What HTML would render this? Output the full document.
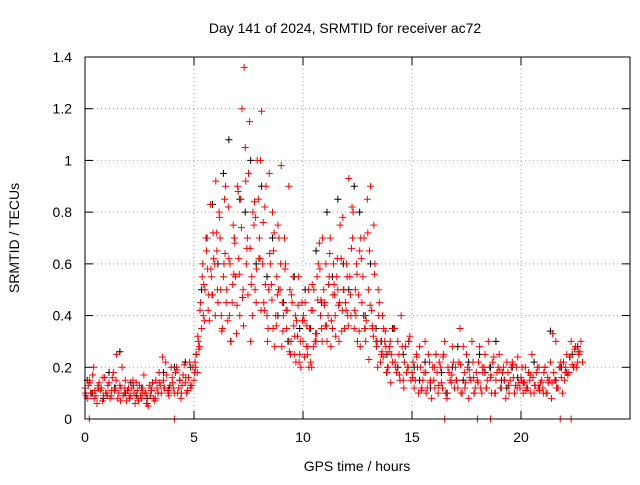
<!DOCTYPE html>
<html><head><meta charset="utf-8"><style>
body{margin:0;background:#fff;}
svg text{font-family:"Liberation Sans",sans-serif;font-size:14px;fill:#000;}
</style></head><body>
<svg id="chart" width="640" height="480">
<rect x="0" y="0" width="640" height="480" fill="#fff"/>
<text x="345" y="33" text-anchor="middle">Day 141 of 2024, SRMTID for receiver ac72</text>
<text x="19" y="238" text-anchor="middle" transform="rotate(-90 19 238)">SRMTID / TECUs</text>
<text x="357" y="471" text-anchor="middle">GPS time / hours</text>
<g id="grid"></g>
<g id="ticks"></g>
<g id="black"></g>
<g id="red"></g>
<rect x="85" y="57" width="545" height="362" fill="none" stroke="#000" stroke-width="1"/>
</svg>
<script>
const xTicks=[0,5,10,15,20];
const yTicks=[0,0.2,0.4,0.6,0.8,1,1.2,1.4];
const yTickLabels=["0","0.2","0.4","0.6","0.8","1","1.2","1.4"];
const redStart=0, redStep=0.1;
const redA=[.12,.08,.15,.1,.2,.09,.13,.11,.07,.16,
.1,.14,.09,.18,.12,.08,.13,.2,.1,.07,
.12,.09,.15,.06,.11,.13,.08,.17,.1,.05,
.09,.14,.07,.12,.18,.1,.15,.22,.11,.13,
.16,.1,.2,.12,.08,.17,.14,.11,.22,.13,
.15,.25,.3,.45,.6,.5,.7,.38,.55,.62,
.92,.45,.7,.35,.85,.5,.62,.3,.75,.55,
.9,.4,1.2,1.36,.6,.95,.3,.8,.5,1.0,
.7,1.19,.45,.9,.35,.6,.8,.28,.55,.7,
.98,.4,.6,.3,.5,.45,.25,.38,.55,.2,
.3,.45,.25,.35,.2,.5,.3,.6,.4,.7,
.45,.3,.55,.38,.6,.32,.5,.75,.42,.35,
.6,.93,.4,.8,.5,.3,.65,.45,.7,.38,
.5,.9,.35,.6,.3,.45,.25,.35,.28,.2,
.3,.22,.35,.18,.25,.4,.15,.28,.2,.32,
.18,.12,.25,.1,.2,.15,.3,.12,.22,.08,
.15,.25,.1,.2,.12,.3,.08,.18,.14,.22,
.2,.12,.35,.1,.18,.25,.08,.15,.22,.12,
.15,.28,.1,.2,.12,.3,.16,.22,.1,.18,
.25,.12,.2,.08,.18,.15,.22,.1,.2,.14,
.16,.1,.2,.12,.15,.25,.1,.18,.12,.14,
.12,.2,.1,.15,.08,.18,.3,.12,.2,.1,
.15,.25,.18,.3,.2,.28,.22,.26];
const redBStart=0.05, redBStep=0.1;
const redB=[.09,.13,.1,.17,.11,.06,.14,.12,.09,.1,
.13,.08,.16,.11,.25,.1,.12,.09,.15,.11,
.08,.12,.1,.14,.07,.09,.12,.1,.06,.13,
.11,.08,.15,.1,.13,.24,.12,.17,.09,.2,
.12,.18,.1,.15,.13,.21,.1,.16,.12,.2,
.22,.18,.28,.35,.52,.7,.42,.83,.48,.6,
.65,.8,.4,.55,.9,.38,.6,.45,.7,.33,
.62,.85,.5,1.05,.7,1.15,.55,.75,.45,.85,
1.0,.6,.82,.4,.95,.52,.65,.4,.75,.5,
.45,.7,.35,.9,.3,.55,.4,.32,.25,.45,
.38,.28,.5,.22,.42,.3,.55,.68,.35,.5,
.6,.4,.7,.35,.48,.55,.3,.62,.5,.45,
.4,.55,.82,.35,.6,.48,.7,.55,.35,.85,
.65,.42,.75,.3,.5,.22,.4,.3,.18,.26,
.25,.35,.2,.3,.15,.28,.22,.18,.3,.15,
.22,.15,.2,.28,.12,.18,.1,.25,.15,.2,
.12,.18,.22,.14,.25,.1,.2,.15,.28,.12,
.15,.22,.1,.28,.14,.2,.16,.3,.1,.18,
.22,.12,.18,.25,.15,.2,.1,.24,.15,.2,
.12,.18,.15,.22,.1,.2,.16,.13,.24,.12,
.2,.14,.12,.18,.1,.16,.13,.2,.11,.15,
.18,.1,.14,.22,.33,.15,.12,.2,.16,.22,
.2,.17,.24,.21,.27,.2,.25,.3];
const redCStart=0.025, redCStep=0.2;
const redC=[.1,.14,.08,.12,.16,.09,.11,.15,.07,.12,
.09,.13,.08,.1,.06,.12,.08,.14,.12,.1,
.14,.19,.1,.16,.13,.18,.27,.4,.58,.48,
.72,.5,.64,.4,.56,.88,.47,.66,.52,.78,
.62,.42,.5,.35,.48,.28,.42,.25,.32,.22,
.4,.28,.52,.33,.46,.36,.64,.52,.44,.78,
.55,.66,.4,.28,.35,.23,.32,.2,.26,.18,
.14,.22,.17,.12,.2,.16,.24,.11,.18,.14,
.2,.13,.24,.1,.17,.15,.21,.12,.19,.16,
.14,.2,.12,.17,.1,.19,.15,.13,.21,.12,
.15,.11,.17,.13,.2,.1,.16,.14,.12,.22,
.18,.24,.2,.26,.22];
const redDStart=5.075, redDStep=0.1;
const redD=[.2,.32,.42,.55,.38,.65,.48,.58,.72,.4,
.5,.78,.34,.6,.45,.82,.3,.52,.68,.44,
.56,.74,.36,.92,.48,.66,.4,.84,.58,.62,
.42,.76,.52,.3,.64,.46,.72,.36,.5,.6,
.34,.58,.42,.26,.48,.36,.22,.44,.3,.38,
.24,.36,.2,.42,.28,.33,.46,.58,.3,.44,
.36,.52,.28,.48,.4,.62,.45,.34,.5,.42,
.36,.48,.7,.42,.56,.34,.62,.4,.3,.72,
.44,.36,.56,.28,.4,.3,.24,.34,.2,.28];
const zeroX=[0.2,4.1,16.5,18.0,18.6,21.8,22.3];
const zeroY=[0,0,0,0,0,0,0];
const blackStart=0, blackStep=0.25;
const black=[.15,.1,.12,.08,.18,.12,.26,.1,.14,.09,.12,.08,.14,.1,.18,.12,.2,.15,.22,.2,
.25,.5,.7,.83,.6,.95,1.08,.7,.85,.8,1.0,.6,.9,.55,.7,.4,.45,.3,.55,.35,
.5,.35,.65,.45,.8,.55,.85,.6,.5,.9,.8,.4,.6,.35,.3,.25,.35,.2,.25,.3,
.2,.15,.22,.12,.25,.18,.1,.2,.28,.15,.22,.1,.25,.18,.2,.3,.15,.12,.2,.16,
.14,.18,.22,.12,.2,.34,.15,.2,.18,.25,.28];
const X0=85,XS=21.8,Y0=419,YS=362/1.4;
const sx=v=>X0+v*XS, sy=v=>Y0-v*YS;
const NS="http://www.w3.org/2000/svg";
const grid=document.getElementById('grid'),ticks=document.getElementById('ticks');
function mk(tag,attrs,parent){const e=document.createElementNS(NS,tag);for(const k in attrs)e.setAttribute(k,attrs[k]);parent.appendChild(e);return e;}
xTicks.forEach(t=>{
  const x=sx(t);
  if(t>0){const g=mk('line',{x1:x,x2:x,y1:57,y2:419,stroke:'#a0a0a0','stroke-dasharray':'1,3'},grid);
  
  }
  const l=mk('line',{x1:x,x2:x,y1:419,y2:411,stroke:'#000'},ticks);
  
  
  const l2=mk('line',{x1:x,x2:x,y1:57,y2:65,stroke:'#000'},ticks);
  
  
  const tx=mk('text',{x:x,y:442,'text-anchor':'middle'},ticks);tx.textContent=String(t);
  
  
});
yTicks.forEach((t,i)=>{
  const y=sy(t);
  if(t>0&&t<1.4){const g=mk('line',{x1:85,x2:630,y1:y,y2:y,stroke:'#a0a0a0','stroke-dasharray':'1,3'},grid);
  
  }
  const l=mk('line',{x1:85,x2:93,y1:y,y2:y,stroke:'#000'},ticks);
  
  
  const l2=mk('line',{x1:622,x2:630,y1:y,y2:y,stroke:'#000'},ticks);
  
  
  const tx=mk('text',{x:72,y:y+5,'text-anchor':'end'},ticks);tx.textContent=yTickLabels[i];
  
  
});
function plus(x,y,col,parent,name){
  const p=mk('path',{d:`M${x-3.5},${y}H${x+3.5}M${x},${y-3.5}V${y+3.5}`,stroke:col,'stroke-width':1,fill:'none'},parent);
  
  
}
const bg=document.getElementById('black'),rg=document.getElementById('red');
black.forEach((v,i)=>plus(sx(blackStart+i*blackStep+0.1),sy(v),'#000',bg,'black-point'));
redA.forEach((v,i)=>plus(sx(redStart+i*redStep),sy(v),'#f00',rg,'red-point'));
redB.forEach((v,i)=>plus(sx(redBStart+i*redBStep),sy(v),'#f00',rg,'red-point'));
redC.forEach((v,i)=>plus(sx(redCStart+i*redCStep),sy(v),'#f00',rg,'red-point'));
redD.forEach((v,i)=>plus(sx(redDStart+i*redDStep),sy(v),'#f00',rg,'red-point'));
zeroX.forEach((v,i)=>plus(sx(v),sy(zeroY[i]),'#f00',rg,'red-point-zero'));
</script>
</body></html>
